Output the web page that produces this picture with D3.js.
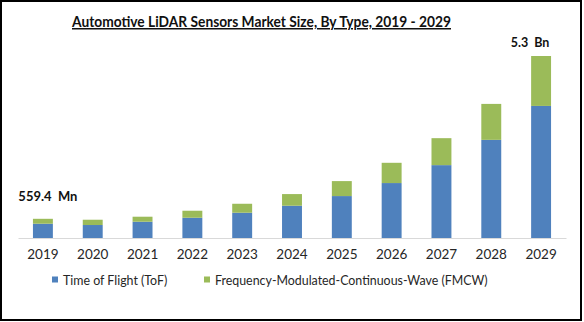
<!DOCTYPE html>
<html><head><meta charset="utf-8">
<script src="https://cdn.jsdelivr.net/npm/d3@7"></script>
<style>
html,body{margin:0;padding:0;background:#fff;}
svg{display:block;}
</style></head>
<body>
<script>
const years = ["2019","2020","2021","2022","2023","2024","2025","2026","2027","2028","2029"];
const tof  = [0.416,0.378,0.474,0.590,0.736,0.940,1.221,1.600,2.122,2.858,3.846];
const fmcw = [0.143,0.154,0.146,0.204,0.261,0.339,0.436,0.590,0.785,1.047,1.454];
const seriesNames = ["Time of Flight (ToF)","Frequency-Modulated-Continuous-Wave (FMCW)"];
const colors = ["#4F81BD","#9BBB59"];
const firstLabel = "559.4  Mn";
const lastLabel = "5.3  Bn";
const title = "Automotive LiDAR Sensors Market Size, By Type, 2019 - 2029";

const W=584,H=322;
const font = "Lato, 'Open Sans', sans-serif";
const svg = d3.select("body").append("svg").attr("width",W).attr("height",H);
svg.append("rect").attr("x",1).attr("y",1).attr("width",580).attr("height",319)
  .attr("fill","#fff").attr("stroke","#000").attr("stroke-width",2);

const data = years.map((y,i)=>({year:y, tof:tof[i], fmcw:fmcw[i]}));
const stack = d3.stack().keys(["tof","fmcw"])(data);

const x = d3.scaleBand().domain(years).range([18,566]).paddingInner(0.6).paddingOuter(0.3);
const y = d3.scaleLinear().domain([0, d3.max(data,d=>d.tof+d.fmcw)]).range([238,56]);

svg.append("g").selectAll("g").data(stack).join("g").attr("fill",(d,i)=>colors[i])
  .selectAll("rect").data(d=>d).join("rect")
  .attr("x",d=>x(d.data.year)).attr("width",x.bandwidth())
  .attr("y",d=>y(d[1])).attr("height",d=>y(d[0])-y(d[1]));

const ax = svg.append("g").attr("transform","translate(0,238)")
  .call(d3.axisBottom(x).tickSize(0).tickPadding(11));
ax.select(".domain").attr("stroke","#d9d9d9").attr("stroke-width",1);
ax.selectAll("text").attr("font-family",font).attr("font-size",13.5).attr("fill","#262626");

svg.append("text").attr("x",261.5).attr("y",27).attr("text-anchor","middle")
  .attr("font-family",font).attr("font-weight","bold").attr("font-size",15)
  .attr("textLength",379).attr("lengthAdjust","spacingAndGlyphs")
  .attr("fill","#111").attr("text-decoration","underline").text(title);

svg.append("text").attr("x",x(years[0])+x.bandwidth()/2+5).attr("y",y(tof[0]+fmcw[0])-18)
  .attr("text-anchor","middle").attr("font-family",font).attr("font-weight","bold")
  .attr("font-size",13).attr("fill","#111").attr("xml:space","preserve").text(firstLabel);
const li = years.length-1;
svg.append("text").attr("x",x(years[li])+x.bandwidth()/2-11).attr("y",y(tof[li]+fmcw[li])-9)
  .attr("text-anchor","middle").attr("font-family",font).attr("font-weight","bold")
  .attr("font-size",12.5).attr("fill","#111").attr("xml:space","preserve").text(lastLabel);

const legX=[52,204];
const lg = svg.append("g");
seriesNames.forEach((n,i)=>{
  lg.append("rect").attr("x",legX[i]).attr("y",276.5).attr("width",6).attr("height",6).attr("fill",colors[i]);
  lg.append("text").attr("x",legX[i]+11).attr("y",285).attr("font-family",font)
    .attr("font-size",12.4).attr("fill","#262626").text(n);
});
</script>
</body></html>
